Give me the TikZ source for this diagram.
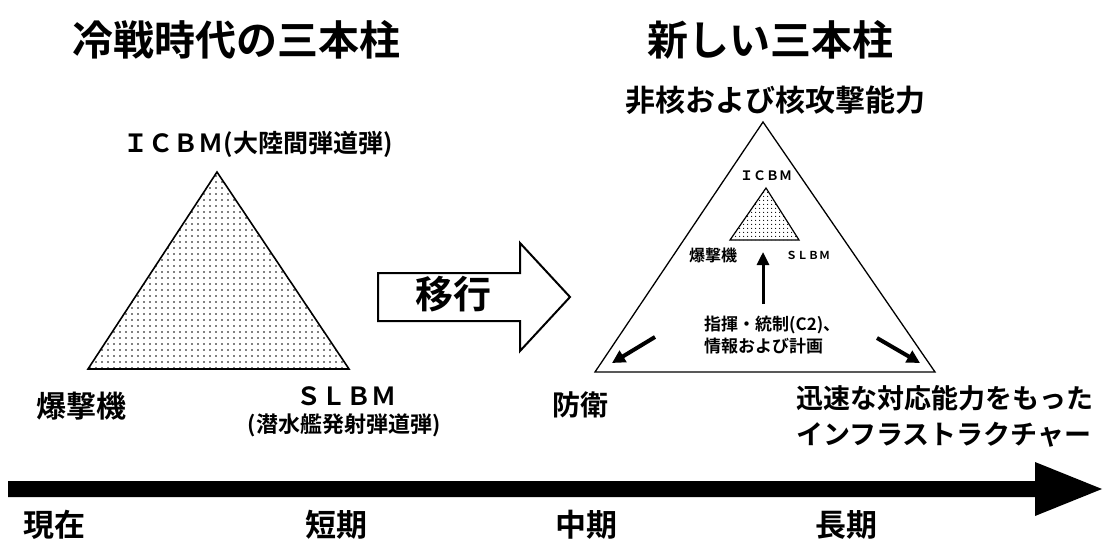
\documentclass[tikz,border=0pt]{standalone}
\usepackage{fontspec}
\setmainfont{Noto Sans CJK JP}[BoldFont={* Bold}]
\usetikzlibrary{patterns.meta,arrows.meta}
\newcommand{\fs}[1]{\fontsize{#1}{#1}\selectfont}
\begin{document}
\begin{tikzpicture}[x=1pt,y=-1pt,
  lbl/.style={inner sep=0pt,font=\bfseries},
  tri/.style={draw=black,line width=1.6pt,line join=miter},
  thinarrow/.style={line width=4pt,-{Triangle[length=13pt,width=13pt]}},
]
\useasboundingbox (0,0) rectangle (1107,548);
% titles
\node[lbl,font=\bfseries\fs{41}] (t1) at (236,40) {冷戦時代の三本柱};
\node[lbl,font=\bfseries\fs{41}] (t2) at (770,40) {新しい三本柱};
% left triangle
\coordinate (LA) at (217,172);
\coordinate (LB) at (88,369);
\coordinate (LC) at (349,369);
\fill[pattern={Dots[distance=6pt,radius=0.95pt]}] (LA) -- (LB) -- (LC) -- cycle;
\draw[tri] (LA) -- (LB) -- (LC) -- cycle;
\node[lbl,font=\bfseries\fs{25}] (icbm) at (258,144) {ＩＣＢＭ(大陸間弾道弾)};
\node[lbl,font=\bfseries\fs{30}] (bomb) at (81,406) {爆撃機};
\node[lbl,font=\bfseries\fs{25}] (slbm) at (346,396) {ＳＬＢＭ};
\node[lbl,font=\bfseries\fs{22}] (slbm2) at (344,425) {(潜水艦発射弾道弾)};
% transition arrow
\draw[line width=2pt,line join=miter,fill=white] (378,273) -- (520,273) -- (520,243) -- (570,297) -- (520,351) -- (520,321) -- (378,321) -- cycle;
\node[lbl,font=\bfseries\fs{38}] (ikou) at (453,294) {移行};
% right big triangle
\node[lbl,font=\bfseries\fs{30}] (cap) at (775,100) {非核および核攻撃能力};
\coordinate (RA) at (763,122);
\coordinate (RB) at (595,372);
\coordinate (RC) at (935,372);
\draw[draw=black,line width=1.3pt] (RA) -- (RB) -- (RC) -- cycle;
% small triangle
\coordinate (SA) at (766,188);
\coordinate (SB) at (730,240);
\coordinate (SC) at (799,240);
\fill[pattern={Dots[distance=4pt,radius=0.7pt]}] (SA) -- (SB) -- (SC) -- cycle;
\draw[draw=black,line width=1.2pt] (SA) -- (SB) -- (SC) -- cycle;
\node[lbl,font=\bfseries\fs{13}] (sicbm) at (766,176) {ＩＣＢＭ};
\node[lbl,font=\bfseries\fs{16}] (sbomb) at (713,255) {爆撃機};
\node[lbl,font=\bfseries\fs{11}] (sslbm) at (808,255) {ＳＬＢＭ};
\coordinate (upA) at (763,304);
\coordinate (upB) at (763,252);
\draw[line width=3pt,-{Triangle[length=13pt,width=12pt]}] (upA) -- (upB);
\node[lbl,font=\bfseries\fs{17},align=left,anchor=west] (c2) at (704,335) {指揮・統制(C2)、\\[3pt]情報および計画};
\coordinate (la1) at (655,337);
\coordinate (la2) at (612,363);
\draw[thinarrow] (la1) -- (la2);
\coordinate (ra1) at (877,338);
\coordinate (ra2) at (920,363);
\draw[thinarrow] (ra1) -- (ra2);
\node[lbl,font=\bfseries\fs{28}] (def) at (580,405) {防衛};
\node[lbl,font=\bfseries\fs{27},align=left,anchor=west] (infra) at (796,416) {迅速な対応能力をもった\\[9pt]インフラストラクチャー};
% timeline
\fill[black] (8,481) -- (1035,481) -- (1035,462) -- (1102,489) -- (1035,516) -- (1035,497) -- (8,497) -- cycle;
\node[lbl,font=\bfseries\fs{31}] (now) at (54,525) {現在};
\node[lbl,font=\bfseries\fs{31}] (short) at (336,525) {短期};
\node[lbl,font=\bfseries\fs{31}] (mid) at (586,525) {中期};
\node[lbl,font=\bfseries\fs{31}] (long) at (846,525) {長期};
\end{tikzpicture}
\end{document}
